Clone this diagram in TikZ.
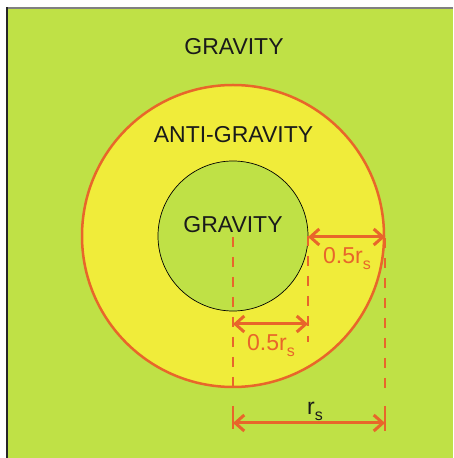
\documentclass[tikz,border=0pt]{standalone}
\usepackage{fontspec}
\setmainfont{Liberation Sans}
\usetikzlibrary{arrows.meta}
\definecolor{bggreen}{RGB}{191,225,70}
\definecolor{ringyellow}{RGB}{240,236,58}
\definecolor{dimorange}{RGB}{232,102,42}
\definecolor{txtgrey}{RGB}{26,26,26}
\tikzset{zonetext/.style = {text = txtgrey, anchor = base, inner sep = 0pt, font = \fontsize{23}{26}\selectfont}}
\tikzset{dimtext/.style = {text = dimorange, inner sep = 0pt, font = \fontsize{23}{26}\selectfont}}
\tikzset{guide/.style = {draw = dimorange, line width = 2.8pt, dash pattern = on 10pt off 10pt}}
\tikzset{tick/.style = {draw = dimorange, line width = 2.8pt}}
\tikzset{dimline/.style = {<->, > = {Straight Barb[length = 9pt, width = 16pt]}, draw = dimorange, line width = 3pt}}
\newcommand{\rsub}{r\raisebox{-6pt}{\fontsize{16}{16}\selectfont s}}

\begin{document}
\begin{tikzpicture}[x = 1pt, y = 1pt]
	\useasboundingbox (0, 0) rectangle (453, 458);
	\fill[bggreen] (7, 0) rectangle (453, 450);
	\draw[line width = 2pt, gray] (7, 450) -- (453, 450);
	\draw[line width = 1.5pt, black!85] (7, 0) -- (7, 451);

	\coordinate (c) at (233, 222);
	\draw[dimorange, line width = 2.5pt, fill = ringyellow] (c) circle (151);
	\draw[black, line width = 0.7pt, fill = bggreen] (c) circle (75);

	\node[zonetext] (outerzone) at (234, 403) {GRAVITY};
	\node[zonetext] (ring) at (233.5, 315) {ANTI-GRAVITY};
	\node[zonetext] (core) at (233, 225) {GRAVITY};

	% guide lines
	\coordinate (ctop) at (233, 221);
	\coordinate (cbot) at (233, 62);
	\coordinate (itop) at (308, 222);
	\coordinate (ibot) at (308, 116);
	\coordinate (otop) at (385, 220);
	\coordinate (obot) at (385, 62);
	\draw[guide] (ctop) -- (cbot);
	\draw[guide] (itop) -- (ibot);
	\draw[guide] (otop) -- (obot);
	\coordinate (ctick1) at (233, 52);
	\coordinate (ctick2) at (233, 29);
	\coordinate (otick1) at (385, 52);
	\coordinate (otick2) at (385, 27);
	\draw[tick] (ctick1) -- (ctick2);
	\draw[tick] (otick1) -- (otick2);

	% dimensions
	\coordinate (a1) at (308, 221);
	\coordinate (b1) at (385, 221);
	\coordinate (a2) at (233, 134);
	\coordinate (b2) at (308, 134);
	\coordinate (a3) at (233, 35);
	\coordinate (b3) at (385, 35);
	\draw[dimline] (a1) -- (b1);
	\draw[dimline] (a2) -- (b2);
	\draw[dimline] (a3) -- (b3);
	\node[dimtext, anchor = base] (half1) at (347, 194) {0.5\rsub};
	\node[dimtext, anchor = base] (half2) at (271, 107) {0.5\rsub};
	\node[dimtext, anchor = base, text = txtgrey] (full) at (315, 43) {\rsub};
\end{tikzpicture}
\end{document}
